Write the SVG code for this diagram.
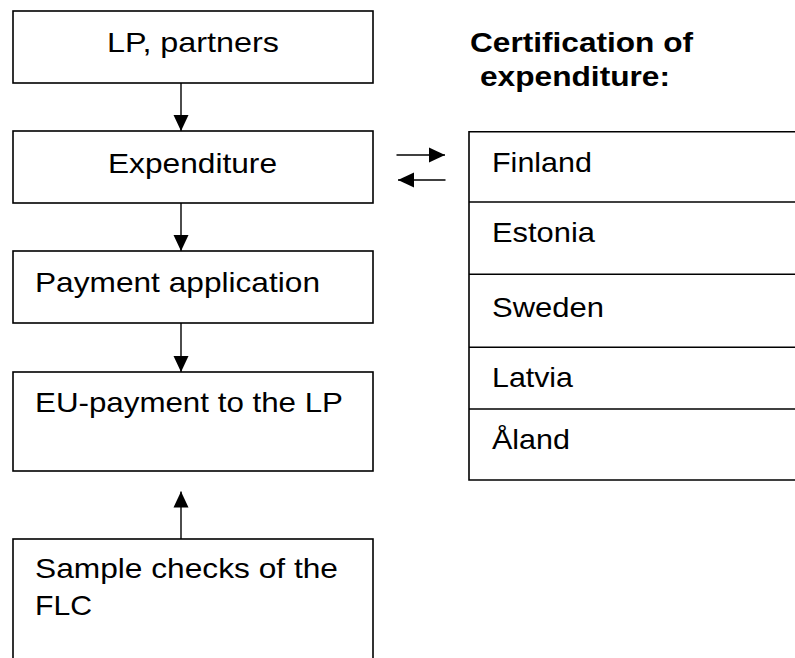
<svg xmlns="http://www.w3.org/2000/svg" width="795" height="658" viewBox="0 0 795 658">
  <style>
    .box { fill: #ffffff; stroke: #000000; stroke-width: 1.6; }
    .rule { stroke: #000000; stroke-width: 1.6; fill: none; }
    .wire { stroke: #000000; stroke-width: 1.4; fill: none; }
    .lbl { font-family: "Liberation Sans", Arial, sans-serif; font-size: 28px; fill: #000000; }
    .head { font-family: "Liberation Sans", Arial, sans-serif; font-size: 28px; font-weight: bold; fill: #000000; }
  </style>
  <defs>
    <marker id="arrow" viewBox="0 0 10 10" refX="10" refY="5" markerWidth="10" markerHeight="10" markerUnits="userSpaceOnUse" orient="auto">
      <path d="M0,0 L10,5 L0,10 Z" fill="#000000"/>
    </marker>
    <marker id="arrowL" viewBox="0 0 16 16" refX="16" refY="8" markerWidth="16" markerHeight="16" markerUnits="userSpaceOnUse" orient="auto">
      <path d="M0,0.5 L16,8 L0,15.5 Z" fill="#000000"/>
    </marker>
  </defs>

  <rect width="795" height="658" fill="#ffffff"/>

  <!-- flow boxes -->
  <g id="lp-partners">
    <rect class="box" x="13" y="11" width="360" height="72"/>
    <text class="lbl" x="107" y="52" textLength="172" lengthAdjust="spacingAndGlyphs">LP, partners</text>
  </g>
  <g id="expenditure">
    <rect class="box" x="13" y="131" width="360" height="72"/>
    <text class="lbl" x="108" y="173" textLength="169" lengthAdjust="spacingAndGlyphs">Expenditure</text>
  </g>
  <g id="payment-application">
    <rect class="box" x="13" y="251" width="360" height="72"/>
    <text class="lbl" x="35" y="292" textLength="285" lengthAdjust="spacingAndGlyphs">Payment application</text>
  </g>
  <g id="eu-payment">
    <rect class="box" x="13" y="372" width="360" height="99"/>
    <text class="lbl" x="35" y="412" textLength="308" lengthAdjust="spacingAndGlyphs">EU-payment to the LP</text>
  </g>
  <g id="sample-checks">
    <rect class="box" x="13" y="539" width="360" height="125"/>
    <text class="lbl" x="35" y="578" textLength="303" lengthAdjust="spacingAndGlyphs">Sample checks of the</text>
    <text class="lbl" x="35" y="615" textLength="57" lengthAdjust="spacingAndGlyphs">FLC</text>
  </g>

  <!-- certification heading -->
  <g id="certification-title">
    <text class="head" x="470" y="52" textLength="223" lengthAdjust="spacingAndGlyphs">Certification of</text>
    <text class="head" x="480" y="86" textLength="190" lengthAdjust="spacingAndGlyphs">expenditure:</text>
  </g>

  <!-- certification table (open on the right) -->
  <g id="certification-table">
    <path class="rule" d="M800,131.7 H469 V480 H800"/>
    <line class="rule" x1="469" y1="202" x2="800" y2="202"/>
    <line class="rule" x1="469" y1="274.3" x2="800" y2="274.3"/>
    <line class="rule" x1="469" y1="347.3" x2="800" y2="347.3"/>
    <line class="rule" x1="469" y1="409" x2="800" y2="409"/>
    <text class="lbl" x="492" y="172" textLength="100" lengthAdjust="spacingAndGlyphs">Finland</text>
    <text class="lbl" x="492" y="242" textLength="103" lengthAdjust="spacingAndGlyphs">Estonia</text>
    <text class="lbl" x="492" y="317" textLength="112" lengthAdjust="spacingAndGlyphs">Sweden</text>
    <text class="lbl" x="492" y="387" textLength="81" lengthAdjust="spacingAndGlyphs">Latvia</text>
    <text class="lbl" x="492" y="449" textLength="78" lengthAdjust="spacingAndGlyphs">Åland</text>
  </g>

  <!-- connectors -->
  <g id="connectors">
    <line class="wire" x1="181" y1="83" x2="181" y2="131" marker-end="url(#arrowL)"/>
    <line class="wire" x1="181" y1="203" x2="181" y2="251" marker-end="url(#arrowL)"/>
    <line class="wire" x1="181" y1="323" x2="181" y2="372" marker-end="url(#arrowL)"/>
    <line class="wire" x1="181" y1="539" x2="181" y2="491.5" marker-end="url(#arrowL)"/>
    <line class="wire" x1="396.5" y1="155" x2="445" y2="155" marker-end="url(#arrowL)"/>
    <line class="wire" x1="445.5" y1="180" x2="398" y2="180" marker-end="url(#arrowL)"/>
  </g>
</svg>
